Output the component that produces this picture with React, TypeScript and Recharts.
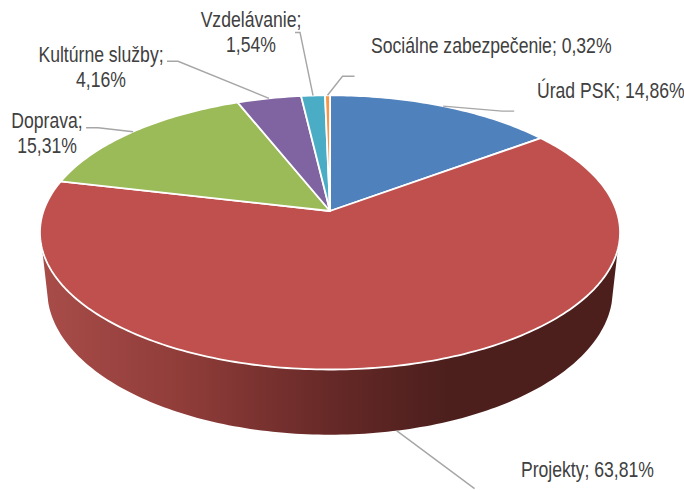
import { PieChart, Pie } from "recharts";

const names = ["Úrad PSK", "Projekty", "Doprava", "Kultúrne služby", "Vzdelávanie", "Sociálne zabezpečenie"];
const shares = [14.86, 63.81, 15.31, 4.16, 1.54, 0.32];
const colors = ["#4f81bd", "#bf504d", "#9bbb59", "#8064a2", "#4bacc6", "#f79646"];

const tableData = names.map((name, i) => ({ name, value: shares[i], fill: colors[i] }));

// label placement: text anchor, baseline, split on two lines or not
const labelSpots = [
  { x: 537, y: 98, anchor: "start", twoLines: false },
  { x: 521, y: 477, anchor: "start", twoLines: false },
  { x: 47, y: 128, anchor: "middle", twoLines: true },
  { x: 101, y: 62, anchor: "middle", twoLines: true },
  { x: 251, y: 27, anchor: "middle", twoLines: true },
  { x: 371, y: 53, anchor: "start", twoLines: false },
];
// leader line elbows, offset from the point where the line leaves the pie
const leaderBends = [
  [[59, 5], [71, 5]],
  [[78, 58]],
  [[-35, -4], [-47, -4]],
  [[-91, -37], [-102, -37]],
  [[-13, -63], [-18, -63]],
  [[15, -19], [27, -19]],
];

// perspective of the pie top, the far side is squeezed
const SQUASH = 0.467;
const TILT = 0.156;
// bottom edge of the wall is a slightly narrower, rounder ellipse
const DEPTH = 56.5;
const BASE_SCALE = 0.975;
const BASE_STRETCH = 1.082;
// no narrow font installed, so the text is squeezed sideways
const TEXT_SQUEEZE = 0.8;
const FONT = "'Liberation Sans', Arial, sans-serif";

const project = (cx: number, cy: number, r: number, theta: number, bottom = false) => {
  const t = (theta * Math.PI) / 180;
  const u = Math.sin(t);
  const v = Math.cos(t);
  const k = 1 + TILT * v;
  const s = bottom ? BASE_SCALE : 1;
  const sy = bottom ? BASE_SCALE * BASE_STRETCH : 1;
  return {
    x: cx + (s * r * u) / k,
    y: cy - (sy * r * SQUASH * v) / k + (bottom ? DEPTH : 0),
  };
};

const arcPoints = (cx: number, cy: number, r: number, from: number, to: number, bottom = false) => {
  const steps = Math.max(2, Math.ceil(Math.abs(to - from)));
  const pts = [];
  for (let i = 0; i <= steps; i++) {
    pts.push(project(cx, cy, r, from + ((to - from) * i) / steps, bottom));
  }
  return pts;
};

const toPath = (pts: { x: number; y: number }[]) =>
  "M" + pts.map((p) => `${p.x.toFixed(2)},${p.y.toFixed(2)}`).join("L") + "Z";

function TopSlice(props: any) {
  const { cx, cy, outerRadius, startAngle, endAngle, fill } = props;
  const pts = [{ x: cx, y: cy }, ...arcPoints(cx, cy, outerRadius, 90 - startAngle, 90 - endAngle)];
  return <path d={toPath(pts)} fill={fill} stroke="#fff" strokeWidth={1.8} strokeLinejoin="round" />;
}

function WallSlice(props: any) {
  const { cx, cy, outerRadius, startAngle, endAngle } = props;
  const a = 90 - startAngle;
  const b = 90 - endAngle;
  // only the front of the rim shows
  const topFrom = Math.max(a, 106);
  const topTo = Math.min(b, 254);
  if (topFrom >= topTo) return <g />;
  const pts = [
    ...arcPoints(cx, cy, outerRadius, topFrom, topTo),
    ...arcPoints(cx, cy, outerRadius, Math.min(b, 256), Math.max(a, 104), true),
  ];
  return <path d={toPath(pts)} fill="url(#wallShade)" />;
}

function SliceLabel(props: any) {
  const { cx, cy, outerRadius, midAngle, index, name, value } = props;
  const spot = labelSpots[index];
  const isFront = index === 1;
  const from = project(cx, cy, outerRadius, 90 - midAngle, isFront);
  const line = [from, ...leaderBends[index].map(([dx, dy]) => ({ x: from.x + dx, y: from.y + dy }))];
  const pct = value.toFixed(2).replace(".", ",") + "%";
  return (
    <g>
      <polyline
        points={line.map((p) => `${p.x},${p.y}`).join(" ")}
        fill="none"
        stroke="#a6a6a6"
        strokeWidth={1.4}
      />
      <text
        transform={`translate(${spot.x} ${spot.y}) scale(${TEXT_SQUEEZE} 1)`}
        textAnchor={spot.anchor}
        fill="#404040"
        fontSize={22}
        fontFamily={FONT}
      >
        {spot.twoLines ? (
          <>
            <tspan x={0}>{name};</tspan>
            <tspan x={0} dy={25}>{pct}</tspan>
          </>
        ) : (
          `${name}; ${pct}`
        )}
      </text>
    </g>
  );
}

export default function App() {
  return (
    <div style={{ position: "absolute", left: 0, top: 0, width: 684, height: 490, overflow: "hidden", background: "#fff" }}>
      <PieChart width={684} height={490} margin={{ top: 0, right: 0, bottom: 0, left: 0 }}>
        <defs>
          <linearGradient id="wallShade" gradientUnits="userSpaceOnUse" x1={42} y1={0} x2={620} y2={0}>
            <stop offset="0" stopColor="#a84c49" />
            <stop offset="0.25" stopColor="#8f3c39" />
            <stop offset="0.5" stopColor="#662927" />
            <stop offset="0.7" stopColor="#4c1f1d" />
            <stop offset="1" stopColor="#4c1f1d" />
          </linearGradient>
        </defs>
        <Pie
          data={tableData}
          dataKey="value"
          nameKey="name"
          cx={330}
          cy={211}
          outerRadius={286.5}
          startAngle={90}
          endAngle={-270}
          shape={WallSlice}
          label={false}
          labelLine={false}
          isAnimationActive={false}
        />
        <Pie
          data={tableData}
          dataKey="value"
          nameKey="name"
          cx={330}
          cy={211}
          outerRadius={286.5}
          startAngle={90}
          endAngle={-270}
          shape={TopSlice}
          label={SliceLabel}
          labelLine={false}
          isAnimationActive={false}
        />
      </PieChart>
    </div>
  );
}
